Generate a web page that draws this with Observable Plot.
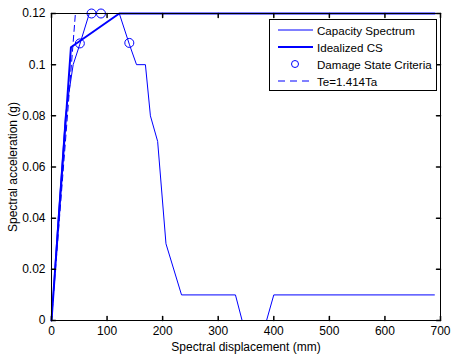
<!DOCTYPE html>
<html><head><meta charset="utf-8">
<script src="https://cdn.jsdelivr.net/npm/d3@7"></script>
<script src="https://cdn.jsdelivr.net/npm/@observablehq/plot@0.6"></script>
<style>
body{margin:0;background:#fff;font-family:"Liberation Sans",Arial,sans-serif;}
#wrap{position:relative;width:453px;height:354px;}
#legend{position:absolute;left:269px;top:19px;width:168px;height:72px;border:1px solid #000;background:#fff;box-sizing:border-box;font-size:11.6px;}
.row{position:absolute;left:0;height:16px;display:flex;align-items:center;}
.row svg{width:40px;height:10px;margin-left:5px;}
.row span{margin-left:2px;color:#000;}
</style></head>
<body><div id="wrap"><div id="chart"></div>
<div id="legend">
<div class="row" style="top:2px"><svg><line x1="3" x2="38" y1="5" y2="5" stroke="#0000ff" stroke-width="1"/></svg><span>Capacity Spectrum</span></div>
<div class="row" style="top:19px"><svg><line x1="3" x2="38" y1="5" y2="5" stroke="#0000ff" stroke-width="2"/></svg><span>Idealized CS</span></div>
<div class="row" style="top:36px"><svg><circle cx="20" cy="5" r="3.5" fill="none" stroke="#0000ff"/></svg><span>Damage State Criteria</span></div>
<div class="row" style="top:53px"><svg><line x1="3" x2="38" y1="5" y2="5" stroke="#0000ff" stroke-width="1" stroke-dasharray="7,5"/></svg><span>Te=1.414Ta</span></div>
</div></div>
<script>
const capX = [0, 12, 25, 39, 51, 68, 122, 140, 153, 169, 178, 191, 206, 234, 331, 343, 387, 400, 689];
const capY = [0, 0.04, 0.08, 0.1, 0.108, 0.12, 0.12, 0.108, 0.1, 0.1, 0.08, 0.07, 0.03, 0.01, 0.01, 0, 0, 0.01, 0.01];
const idealX = [0, 35, 122, 690];
const idealY = [0, 0.1068, 0.12, 0.12];
const dsX = [51, 72, 89, 140];
const dsY = [0.1083, 0.12, 0.12, 0.1085];
const teX = [0, 43];
const teY = [0, 0.12];
const xTicks = [0, 100, 200, 300, 400, 500, 600, 700];
const yTicks = [0, 0.02, 0.04, 0.06, 0.08, 0.1, 0.12];

const cap = capX.map((x, i) => ({x, y: capY[i]}));
const ideal = idealX.map((x, i) => ({x, y: idealY[i]}));
const ds = dsX.map((x, i) => ({x, y: dsY[i]}));
const te = teX.map((x, i) => ({x, y: teY[i]}));
const blue = "#0000ff";
const tickShape = {draw(ctx, l) { ctx.moveTo(0, 0); ctx.lineTo(0, -l); }};

const chart = Plot.plot({
  width: 453, height: 354,
  marginLeft: 51, marginRight: 13, marginTop: 13, marginBottom: 34,
  style: {fontFamily: "Liberation Sans, Arial, sans-serif", fontSize: "12px", color: "#000"},
  x: {domain: [0, 700], ticks: xTicks},
  y: {domain: [0, 0.12], ticks: yTicks},
  marks: [
    Plot.line(te, {x: "x", y: "y", stroke: blue, strokeWidth: 1, strokeDasharray: "6,4"}),
    Plot.line(cap, {x: "x", y: "y", stroke: blue, strokeWidth: 1}),
    Plot.line(ideal, {x: "x", y: "y", stroke: blue, strokeWidth: 2}),
    Plot.dot(ds, {x: "x", y: "y", r: 4.5, stroke: blue, fill: "none", strokeWidth: 1}),
    Plot.frame({stroke: "#000", strokeWidth: 1}),
    Plot.vector(xTicks, {x: d => d, y: () => 0, length: 4, rotate: 0, anchor: "start", shape: tickShape, stroke: "#000"}),
    Plot.vector(xTicks, {x: d => d, y: () => 0.12, length: 4, rotate: 180, anchor: "start", shape: tickShape, stroke: "#000"}),
    Plot.vector(yTicks, {y: d => d, x: () => 0, length: 4, rotate: 90, anchor: "start", shape: tickShape, stroke: "#000"}),
    Plot.vector(yTicks, {y: d => d, x: () => 700, length: 4, rotate: -90, anchor: "start", shape: tickShape, stroke: "#000"}),
    Plot.axisX(xTicks, {tickSize: 0, tickPadding: 6, tickFormat: d => String(d), label: "Spectral displacement (mm)", labelAnchor: "center", labelArrow: "none", labelOffset: 30}),
    Plot.axisY(yTicks, {tickSize: 0, tickPadding: 6, tickFormat: d => String(+d.toFixed(2)), label: "Spectral acceleration (g)", labelAnchor: "center", labelArrow: "none", labelOffset: 43})
  ]
});
document.getElementById("chart").appendChild(chart);
</script></body></html>
